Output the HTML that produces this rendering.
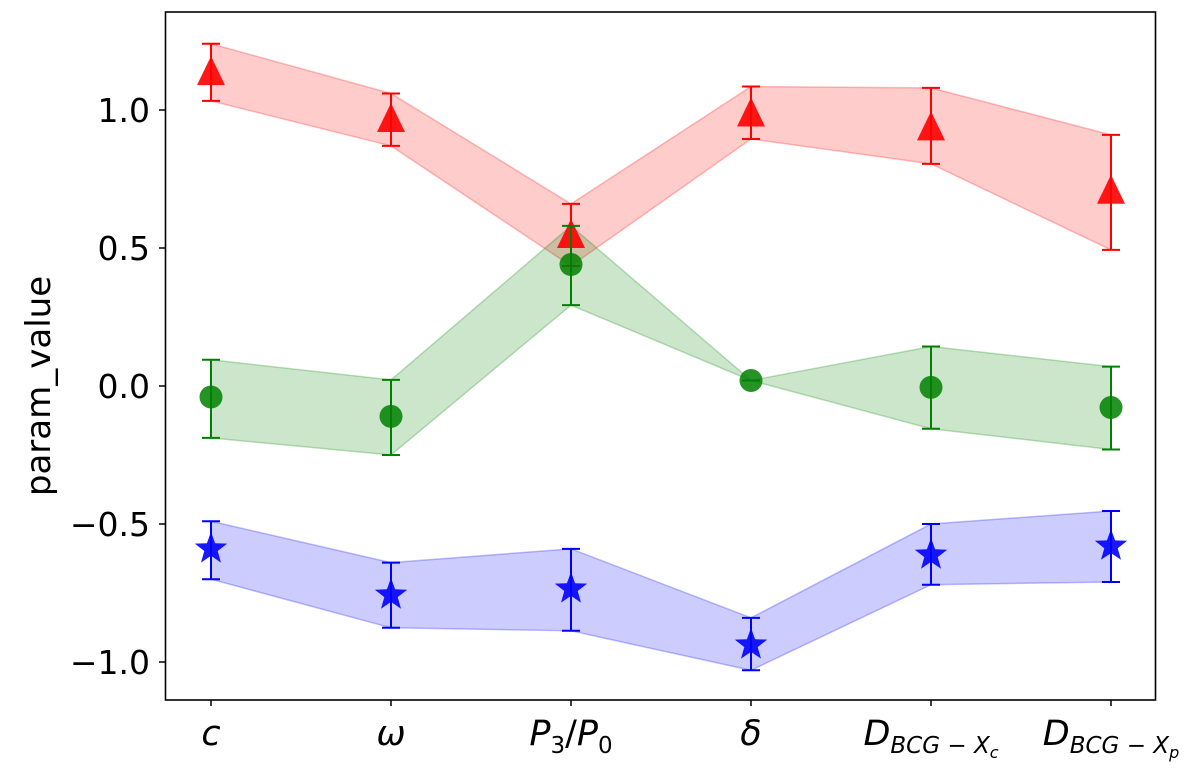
<!DOCTYPE html>
<html><head><meta charset="utf-8"><style>
body{margin:0;background:#fff}
svg text{font-family:"DejaVu Sans","Liberation Sans",sans-serif}
</style></head><body>
<svg id="chart" width="1200" height="771" viewBox="0 0 1200 771">
<g id="bands"></g><g id="marks"></g>
<rect x="165.5" y="12" width="990" height="688" fill="none" stroke="#000" stroke-width="1.6"/>
<g id="axes"></g>
<text x="50" y="386" font-size="34" text-anchor="middle" transform="rotate(-90 50 386)">param_value</text>
</svg>
<script>
const categories=["c","ω","P3/P0","δ","D1","D2"];
const redVal=[1.13,0.96,0.54,0.98,0.93,0.70];
const redHi=[1.24,1.06,0.66,1.085,1.08,0.91];
const redLo=[1.033,0.87,0.435,0.895,0.805,0.493];
const greenVal=[-0.04,-0.11,0.44,0.02,-0.005,-0.078];
const greenHi=[0.095,0.022,0.58,0.02,0.143,0.07];
const greenLo=[-0.188,-0.25,0.293,0.02,-0.155,-0.23];
const blueVal=[-0.59,-0.757,-0.735,-0.938,-0.612,-0.58];
const blueHi=[-0.49,-0.64,-0.59,-0.84,-0.50,-0.453];
const blueLo=[-0.70,-0.876,-0.887,-1.03,-0.72,-0.71];
const yTicks=[-1.0,-0.5,0.0,0.5,1.0];
const NS="http://www.w3.org/2000/svg";
const xs=i=>211+i*180;
const ys=v=>386-v*276;
function el(t,a,p){const e=document.createElementNS(NS,t);for(const k in a)e.setAttribute(k,a[k]);p.appendChild(e);return e;}
const bands=document.getElementById('bands'),marks=document.getElementById('marks'),axes=document.getElementById('axes');
const series=[
 {name:'red',val:redVal,hi:redHi,lo:redLo,c:'#ff0000',fill:'rgba(255,0,0,0.2)',edge:'rgba(255,0,0,0.25)',m:'tri'},
 {name:'green',val:greenVal,hi:greenHi,lo:greenLo,c:'#008000',fill:'rgba(0,128,0,0.2)',edge:'rgba(0,128,0,0.25)',m:'circ'},
 {name:'blue',val:blueVal,hi:blueHi,lo:blueLo,c:'#0000ff',fill:'rgba(0,0,255,0.2)',edge:'rgba(0,0,255,0.25)',m:'star'}];
series.forEach(s=>{
 let pts=s.hi.map((v,i)=>xs(i)+','+ys(v));
 for(let i=s.lo.length-1;i>=0;i--)pts.push(xs(i)+','+ys(s.lo[i]));
 const b=el('polygon',{points:pts.join(' '),fill:s.fill,stroke:s.edge,'stroke-width':1.5},bands);
 
 
 s.val.forEach((v,i)=>{
  const g=el('g',{},marks);
  
  
  const x=xs(i),y1=ys(s.hi[i]),y2=ys(s.lo[i]),y=ys(v);
  el('line',{x1:x,x2:x,y1:y1,y2:y2,stroke:s.c,'stroke-width':2},g);
  el('line',{x1:x-9,x2:x+9,y1:y1,y2:y1,stroke:s.c,'stroke-width':2},g);
  el('line',{x1:x-9,x2:x+9,y1:y2,y2:y2,stroke:s.c,'stroke-width':2},g);
  if(s.m==='tri')el('polygon',{points:`${x},${y-18} ${x-14},${y+11} ${x+14},${y+11}`,fill:s.c,opacity:0.9},g);
  else if(s.m==='circ')el('circle',{cx:x,cy:y,r:11.5,fill:s.c,opacity:0.85},g);
  else{let p=[];for(let k=0;k<10;k++){const r=k%2?7:17,a=-Math.PI/2+k*Math.PI/5;p.push((x+r*Math.cos(a)).toFixed(1)+','+(y+r*Math.sin(a)).toFixed(1));}
   el('polygon',{points:p.join(' '),fill:s.c,opacity:0.9},g);}
 });
});
yTicks.forEach(t=>{
 const y=ys(t);
 el('line',{x1:159,x2:165,y1:y,y2:y,stroke:'#000','stroke-width':1.5},axes);
 const tx=el('text',{x:150,y:y+12,'font-size':33,'text-anchor':'end'},axes);
 tx.textContent=t.toFixed(1).replace('-','−');
 
 
});
const labels=['<tspan font-style="italic">c</tspan>','<tspan font-style="italic">ω</tspan>',
'<tspan font-style="italic">P</tspan><tspan font-size="23" dy="8">3</tspan><tspan dy="-8">/</tspan><tspan font-style="italic">P</tspan><tspan font-size="23" dy="8">0</tspan>',
'<tspan font-style="italic">δ</tspan>',
'<tspan font-style="italic">D</tspan><tspan font-size="23" dy="8" font-style="italic">BCG</tspan><tspan font-size="23"> − </tspan><tspan font-size="23" font-style="italic">X</tspan><tspan font-size="16" dy="5" font-style="italic">c</tspan>',
'<tspan font-style="italic">D</tspan><tspan font-size="23" dy="8" font-style="italic">BCG</tspan><tspan font-size="23"> − </tspan><tspan font-size="23" font-style="italic">X</tspan><tspan font-size="16" dy="5" font-style="italic">p</tspan>'];
categories.forEach((c,i)=>{
 const x=xs(i);
 el('line',{x1:x,x2:x,y1:700,y2:706,stroke:'#000','stroke-width':1.5},axes);
 const tx=el('text',{x:x,y:745,'font-size':35,'text-anchor':'middle'},axes);
 tx.innerHTML=labels[i];
 
 
});
</script>
</body></html>
